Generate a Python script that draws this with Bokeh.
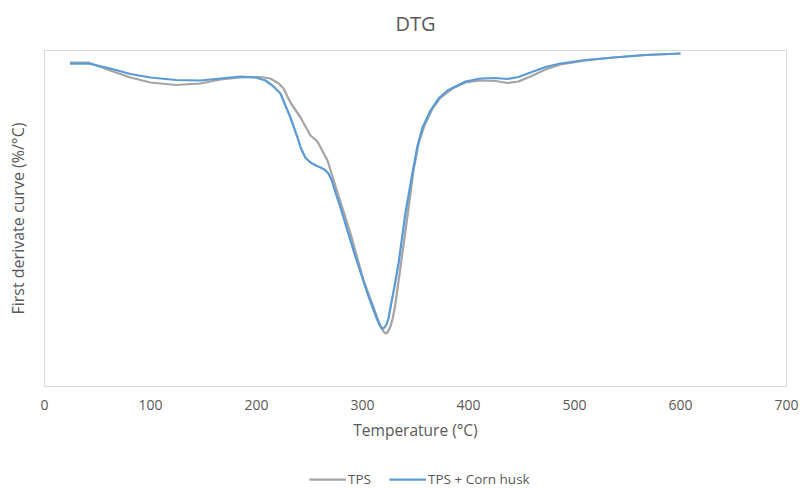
from bokeh.plotting import figure
from bokeh.models import Range1d, FixedTicker, Legend, LegendItem
from bokeh.layouts import column
from bokeh.embed import file_html
from bokeh.resources import INLINE

# Temperature (°C) and DTG values (arbitrary %/°C units)
tps_temp = [24, 41.5, 62, 81, 100, 124, 147, 166, 185, 204, 213, 221, 225.5, 232, 241.5,
            251, 257.5, 267, 276.4, 288.7, 301, 314.2, 317, 319.8, 321.7, 323.6, 326.4,
            328.5, 331.1, 335.8, 342.5, 348.1, 352.8, 358.5, 366, 373.6, 384.9, 397.2,
            411.3, 425.5, 436.8, 447.2, 458.5, 472.6, 486.8, 510.4, 536.8, 567, 600]
tps_dtg = [-0.12, -0.12, -0.20, -0.27, -0.32, -0.345, -0.33, -0.29, -0.27, -0.265, -0.28,
           -0.33, -0.38, -0.52, -0.67, -0.85, -0.91, -1.10, -1.42, -1.83, -2.30, -2.68,
           -2.76, -2.81, -2.83, -2.82, -2.76, -2.68, -2.53, -2.17, -1.65, -1.20, -0.93,
           -0.75, -0.58, -0.47, -0.38, -0.32, -0.30, -0.305, -0.325, -0.31, -0.26, -0.19,
           -0.14, -0.10, -0.07, -0.045, -0.03]

husk_temp = [24, 41.5, 62, 81, 100, 124, 147, 166, 185, 199, 208.5, 215, 222.6, 232,
             238.7, 242, 246, 251, 256, 260.4, 264, 267.9, 271, 274.5, 279.2, 291.5, 304.7,
             314.2, 317, 318.9, 320.8, 322.6, 324.5, 326.4, 330, 334, 340.6, 347.2, 352,
             356.6, 364.2, 371.7, 380.2, 387.7, 397.2, 411.3, 425.5, 436.8, 447.2, 458.5,
             472.6, 486.8, 510.4, 536.8, 567, 600]
husk_dtg = [-0.13, -0.13, -0.18, -0.235, -0.27, -0.295, -0.30, -0.28, -0.26, -0.27, -0.30,
            -0.35, -0.43, -0.67, -0.87, -0.98, -1.07, -1.12, -1.15, -1.17, -1.19, -1.23,
            -1.30, -1.42, -1.57, -2.00, -2.43, -2.70, -2.76, -2.78, -2.77, -2.74, -2.68,
            -2.57, -2.37, -2.13, -1.62, -1.22, -0.95, -0.77, -0.60, -0.48, -0.40, -0.36,
            -0.31, -0.28, -0.275, -0.285, -0.265, -0.22, -0.165, -0.13, -0.095, -0.07,
            -0.045, -0.03]

x_ticks = [0, 100, 200, 300, 400, 500, 600, 700]
series_names = ["TPS", "TPS + Corn husk"]
series_colors = ["#a5a5a5", "#5b9bd5"]

FONT = "Open Sans"
TXT = "#595959"

# Title strip
t = figure(width=802, height=37, output_backend="svg", toolbar_location=None,
           x_range=Range1d(0, 1), y_range=Range1d(0, 1), title="DTG",
           min_border_left=44, min_border_right=16, min_border_top=36, min_border_bottom=0,
           x_axis_location=None, y_axis_location=None)
t.outline_line_color = None
t.xgrid.visible = False
t.ygrid.visible = False
t.background_fill_color = "white"
t.border_fill_color = "white"
t.title.text_font = FONT
t.title.text_font_size = "20px"
t.title.text_font_style = "normal"
t.title.text_color = TXT
t.title.align = "center"
t.title.standoff = 0

p = figure(width=802, height=423, output_backend="svg", toolbar_location=None,
           x_range=Range1d(0, 700), y_range=Range1d(-3.36, 0),
           min_border_left=44, min_border_right=16, min_border_top=13, min_border_bottom=74)

p.outline_line_color = "#d9d9d9"
p.outline_line_width = 1
p.xgrid.visible = False
p.ygrid.visible = False
p.background_fill_color = "white"
p.border_fill_color = "white"

p.xaxis.ticker = FixedTicker(ticks=x_ticks)
p.xaxis.axis_line_color = None
p.xaxis.major_tick_line_color = None
p.xaxis.minor_tick_line_color = None
p.xaxis.major_tick_out = 0
p.xaxis.major_tick_in = 0
p.xaxis.major_label_standoff = 13
p.xaxis.major_label_text_font = FONT
p.xaxis.major_label_text_font_size = "14px"
p.xaxis.major_label_text_color = TXT
p.xaxis.axis_label = "Temperature (°C)"
p.xaxis.axis_label_text_font = FONT
p.xaxis.axis_label_text_font_size = "15.5px"
p.xaxis.axis_label_text_font_style = "normal"
p.xaxis.axis_label_text_color = TXT
p.xaxis.axis_label_standoff = 6

p.yaxis.ticker = FixedTicker(ticks=[])
p.yaxis.axis_line_color = None
p.yaxis.major_tick_line_color = None
p.yaxis.minor_tick_line_color = None
p.yaxis.major_tick_out = 0
p.yaxis.major_tick_in = 0
p.yaxis.major_label_standoff = 0
p.yaxis.axis_label = "First derivate curve (%/°C)"
p.yaxis.axis_label_text_font = FONT
p.yaxis.axis_label_text_font_size = "16px"
p.yaxis.axis_label_text_font_style = "normal"
p.yaxis.axis_label_text_color = TXT
p.yaxis.axis_label_standoff = 16

p.line(tps_temp, tps_dtg, line_color=series_colors[0], line_width=2.25)
p.line(husk_temp, husk_dtg, line_color=series_colors[1], line_width=2.25)

# Legend strip below the chart (same series, out of view, only for legend glyphs)
q = figure(width=802, height=28, output_backend="svg", toolbar_location=None,
           x_range=Range1d(0, 700), y_range=Range1d(10, 11),
           min_border_left=0, min_border_right=0, min_border_top=0, min_border_bottom=0,
           x_axis_location=None, y_axis_location=None)
q.outline_line_color = None
q.xgrid.visible = False
q.ygrid.visible = False
q.background_fill_color = "white"
q.border_fill_color = "white"
l1 = q.line(tps_temp, tps_dtg, line_color=series_colors[0], line_width=2.25)
l2 = q.line(husk_temp, husk_dtg, line_color=series_colors[1], line_width=2.25)

legend = Legend(items=[LegendItem(label=series_names[0], renderers=[l1]),
                       LegendItem(label=series_names[1], renderers=[l2])],
                orientation="horizontal", location=(265, 0),
                padding=0, margin=0, spacing=18, label_standoff=2,
                glyph_width=37, glyph_height=14, label_height=14,
                label_text_font=FONT, label_text_font_size="13.5px",
                label_text_color=TXT, border_line_color=None,
                background_fill_alpha=0)
q.add_layout(legend, "center")

layout = column(t, p, q, spacing=0)
open("out.html", "w").write(file_html(layout, INLINE))
